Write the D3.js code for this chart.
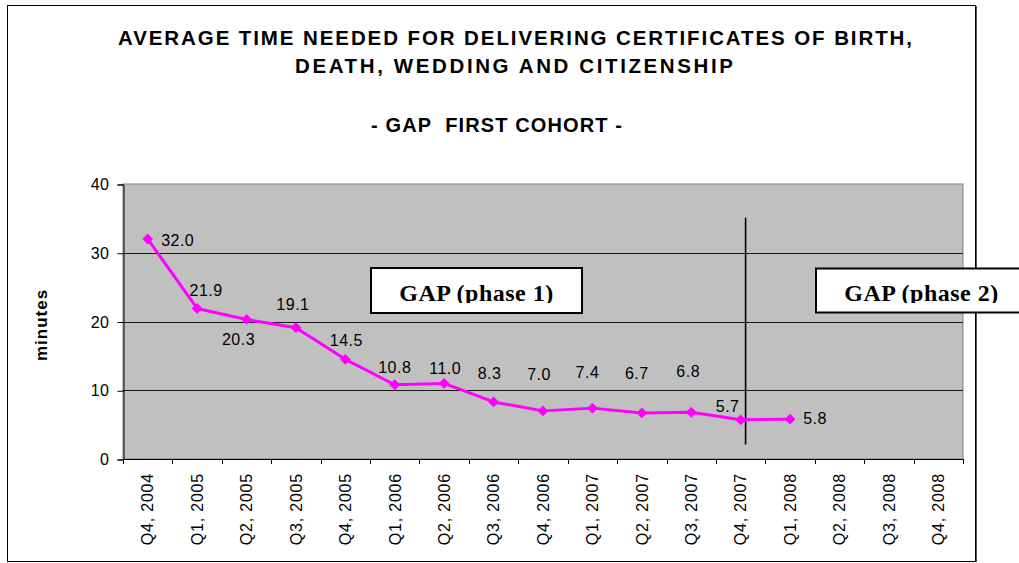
<!DOCTYPE html>
<html>
<head>
<meta charset="utf-8">
<script src="https://cdnjs.cloudflare.com/ajax/libs/d3/7.8.5/d3.min.js"></script>
<style>
  body { margin: 0; background: #fff; }
  svg { display: block; }
  text { font-family: Arial, 'Liberation Sans', sans-serif; }
</style>
</head>
<body>
<div id="chart"></div>
<script>
// chart data
var categories = ['Q4, 2004', 'Q1, 2005', 'Q2, 2005', 'Q3, 2005', 'Q4, 2005', 'Q1, 2006',
  'Q2, 2006', 'Q3, 2006', 'Q4, 2006', 'Q1, 2007', 'Q2, 2007', 'Q3, 2007', 'Q4, 2007',
  'Q1, 2008', 'Q2, 2008', 'Q3, 2008', 'Q4, 2008']
var minutes = [32.0, 21.9, 20.3, 19.1, 14.5, 10.8, 11.0, 8.3, 7.0, 7.4, 6.7, 6.8, 5.7, 5.8,
  null, null, null]
var yTicks = [0, 10, 20, 30, 40]
var titleLines = ['AVERAGE TIME NEEDED FOR DELIVERING CERTIFICATES OF BIRTH,',
  'DEATH, WEDDING AND CITIZENSHIP']
var subtitle = '- GAP  FIRST COHORT -'
var yLabel = 'minutes'
var phaseLabels = ['GAP (phase 1)', 'GAP (phase 2)']
var phaseBreak = 'Q4, 2007'

// where excel left each data label, relative to its point (dx, dy in px)
var labelOffsets = [[30, 7], [9, -12], [-8, 26], [-3, -18], [1, -13], [0, -12], [1, -9],
  [-4, -23], [-4, -31], [-5, -30], [-5, -34], [-3, -35], [-13, -8], [25, 5]]

var W = 1019, H = 563
var plot = {left: 123, right: 963, top: 184, bottom: 459}

var svg = d3.select('#chart').append('svg')
  .attr('width', W)
  .attr('height', H)

// outer chart frame
svg.append('rect')
  .attr('x', 7.5).attr('y', 5.5)
  .attr('width', 968).attr('height', 556)
  .attr('fill', '#fff')
  .attr('stroke', '#000')
  .attr('stroke-width', 1)
svg.append('line')
  .attr('x1', 976.5).attr('x2', 976.5).attr('y1', 6).attr('y2', 562)
  .attr('stroke', '#555').attr('stroke-width', 1)

// titles
var titleSpans = [[118, 912, 44.5], [295, 733, 72.5]]
titleLines.forEach(function (t, i) {
  var s = titleSpans[i]
  svg.append('text')
    .attr('x', s[0]).attr('y', s[2])
    .attr('textLength', s[1] - s[0])
    .attr('lengthAdjust', 'spacing')
    .style('font-size', '20.5px')
    .style('font-weight', 'bold')
    .text(t)
})
svg.append('text')
  .attr('x', 371).attr('y', 131.5)
  .attr('textLength', 251)
  .attr('lengthAdjust', 'spacing')
  .style('font-size', '20px')
  .style('font-weight', 'bold')
  .style('white-space', 'pre')
  .text(subtitle)

// scales
var x = d3.scaleBand().domain(categories).range([plot.left, plot.right]).padding(0)
var y = d3.scaleLinear().domain([0, 40]).range([plot.bottom, plot.top])

// plot area
svg.append('rect')
  .attr('x', plot.left).attr('y', plot.top)
  .attr('width', plot.right - plot.left).attr('height', plot.bottom - plot.top)
  .attr('fill', '#c0c0c0')
  .attr('stroke', '#808080')
  .attr('stroke-width', 1)

// gridlines
svg.append('g')
  .selectAll('line')
  .data(yTicks.filter(function (d) { return d > 0 && d < 40 }))
  .join('line')
  .attr('x1', plot.left).attr('x2', plot.right)
  .attr('y1', function (d) { return Math.round(y(d)) + 0.5 })
  .attr('y2', function (d) { return Math.round(y(d)) + 0.5 })
  .attr('stroke', '#1a1a1a')
  .attr('stroke-width', 1)

// y axis
var yAxis = svg.append('g')
  .attr('transform', 'translate(' + (plot.left + 0.5) + ',0.5)')
  .call(d3.axisLeft(y).tickValues(yTicks).tickSize(6).tickPadding(8).tickFormat(d3.format('d')))
yAxis.select('.domain').attr('stroke', '#000')
yAxis.selectAll('.tick line').attr('stroke', '#000')
yAxis.selectAll('.tick text')
  .style('font-size', '16px')
  .style('letter-spacing', '0.5px')
  .attr('fill', '#000')
  .attr('font-family', null)

// x axis ticks at category boundaries
var bounds = categories.map(function (c) { return x(c) }).concat([plot.right])
svg.append('g')
  .selectAll('line')
  .data(bounds)
  .join('line')
  .attr('x1', function (d) { return Math.round(d) + 0.5 })
  .attr('x2', function (d) { return Math.round(d) + 0.5 })
  .attr('y1', plot.bottom).attr('y2', plot.bottom + 5)
  .attr('stroke', '#000')
svg.append('line')
  .attr('x1', plot.left).attr('x2', plot.right)
  .attr('y1', plot.bottom + 0.5).attr('y2', plot.bottom + 0.5)
  .attr('stroke', '#000')

// category labels, rotated
svg.append('g')
  .selectAll('text')
  .data(categories)
  .join('text')
  .attr('transform', function (d) {
    return 'translate(' + (x(d) + x.bandwidth() / 2) + ',473) rotate(-90)'
  })
  .attr('text-anchor', 'end')
  .attr('dy', '0.36em')
  .style('font-size', '16px')
  .style('letter-spacing', '0.8px')
  .text(function (d) { return d })

// y label
svg.append('text')
  .attr('transform', 'translate(47,325) rotate(-90)')
  .attr('text-anchor', 'middle')
  .style('font-size', '17px')
  .style('font-weight', 'bold')
  .style('letter-spacing', '1px')
  .text(yLabel)

// phase divider
var breakX = x(phaseBreak) + x.bandwidth() * 0.6
svg.append('line')
  .attr('x1', breakX).attr('x2', breakX)
  .attr('y1', y(35.1)).attr('y2', y(2.1))
  .attr('stroke', '#000')
  .attr('stroke-width', 1.6)

// series
var pts = minutes.map(function (v, i) { return {cat: categories[i], v: v, i: i} })
  .filter(function (d) { return d.v !== null })

var line = d3.line()
  .x(function (d) { return x(d.cat) + x.bandwidth() / 2 })
  .y(function (d) { return y(d.v) })

svg.append('path')
  .datum(pts)
  .attr('d', line)
  .attr('fill', 'none')
  .attr('stroke', '#ff00ff')
  .attr('stroke-width', 3)
  .attr('stroke-linejoin', 'round')

svg.append('g')
  .selectAll('path')
  .data(pts)
  .join('path')
  .attr('d', d3.symbol().type(d3.symbolDiamond2).size(75))
  .attr('transform', function (d) {
    return 'translate(' + (x(d.cat) + x.bandwidth() / 2) + ',' + y(d.v) + ')'
  })
  .attr('fill', '#ff00ff')

// data labels
svg.append('g')
  .selectAll('text')
  .data(pts)
  .join('text')
  .attr('x', function (d) { return x(d.cat) + x.bandwidth() / 2 + labelOffsets[d.i][0] })
  .attr('y', function (d) { return y(d.v) + labelOffsets[d.i][1] })
  .attr('text-anchor', 'middle')
  .style('font-size', '16px')
  .style('letter-spacing', '0.5px')
  .text(function (d) { return d.v.toFixed(1) })

// phase boxes
var boxes = [
  {x0: 371, x1: 582, y0: 268, y1: 313},
  {x0: 816, x1: 1027, y0: 268.5, y1: 312.5}
]
var defs = svg.append('defs')
boxes.forEach(function (b, i) {
  defs.append('clipPath').attr('id', 'clip' + i)
    .append('rect')
    .attr('x', b.x0).attr('y', b.y0)
    .attr('width', b.x1 - b.x0).attr('height', 303 - b.y0)
  svg.append('rect')
    .attr('x', b.x0).attr('y', b.y0)
    .attr('width', b.x1 - b.x0).attr('height', b.y1 - b.y0)
    .attr('fill', '#fff')
    .attr('stroke', '#000')
    .attr('stroke-width', 2)
  svg.append('text')
    .attr('x', (b.x0 + b.x1) / 2).attr('y', 300.5)
    .attr('text-anchor', 'middle')
    .attr('clip-path', 'url(#clip' + i + ')')
    .style('font-family', "'Times New Roman', 'Liberation Serif', serif")
    .style('font-size', '24px')
    .style('font-weight', 'bold')
    .style('letter-spacing', '0.5px')
    .text(phaseLabels[i])
})
</script>
</body>
</html>
